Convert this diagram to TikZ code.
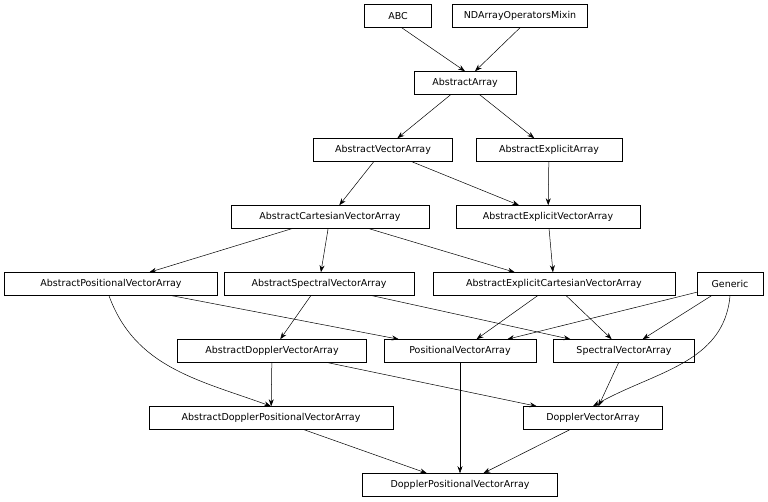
\documentclass[tikz,border=0pt]{standalone}
\usepackage{fontspec}
\setmainfont{DejaVu Sans}
\usetikzlibrary{arrows.meta}
\begin{document}
\begin{tikzpicture}[x=1pt,y=-1pt,
  cls/.style={draw,line width=0.5pt,font=\fontsize{9.5}{11}\selectfont,minimum height=23pt,inner sep=0pt},
  edge/.style={draw,line width=0.5pt,-{Stealth[length=7pt,width=5pt]}}]
\useasboundingbox (0,0) rectangle (768,502);
\node[cls,minimum width=67] (abc) at (398,16) {ABC};
\node[cls,minimum width=135] (nda) at (520,16) {NDArrayOperatorsMixin};
\node[cls,minimum width=102] (aa) at (465,83) {AbstractArray};
\node[cls,minimum width=139] (ava) at (383,150) {AbstractVectorArray};
\node[cls,minimum width=146] (aea) at (549,150) {AbstractExplicitArray};
\node[cls,minimum width=198] (acva) at (330,217) {AbstractCartesianVectorArray};
\node[cls,minimum width=184] (aeva) at (548,217) {AbstractExplicitVectorArray};
\node[cls,minimum width=213] (apva) at (111,284) {AbstractPositionalVectorArray};
\node[cls,minimum width=190] (asva) at (319,284) {AbstractSpectralVectorArray};
\node[cls,minimum width=242] (aecva) at (554,284) {AbstractExplicitCartesianVectorArray};
\node[cls,minimum width=66] (gen) at (730,284) {Generic};
\node[cls,minimum width=189] (adva) at (272,351) {AbstractDopplerVectorArray};
\node[cls,minimum width=152] (pva) at (460,351) {PositionalVectorArray};
\node[cls,minimum width=141] (sva) at (624,351) {SpectralVectorArray};
\node[cls,minimum width=244] (adpva) at (271,418) {AbstractDopplerPositionalVectorArray};
\node[cls,minimum width=139] (dva) at (593,418) {DopplerVectorArray};
\node[cls,minimum width=195] (dpva) at (460,485) {DopplerPositionalVectorArray};
\draw[edge] (abc.south east) ++(-30,0) -- (aa.north);
\draw[edge] (nda.south) -- ([xshift=10]aa.north);
\draw[edge] (aa) -- (ava);
\draw[edge] (aa) -- (aea);
\draw[edge] (ava) -- (acva);
\draw[edge] (ava) -- (aeva);
\draw[edge] (aea) -- (aeva);
\draw[edge] (acva) -- (apva);
\draw[edge] (acva) -- (asva);
\draw[edge] (acva) -- (aecva);
\draw[edge] (aeva) -- (aecva);
\draw[edge] (apva) -- (pva);
\draw[edge] (apva.south) ++(-2,0) to[out=-70,in=160] (adpva.north);
\draw[edge] (asva) -- (adva);
\draw[edge] (asva) -- (sva);
\draw[edge] (aecva) -- (pva);
\draw[edge] (aecva) -- (sva);
\draw[edge] (gen) -- (pva);
\draw[edge] (gen) -- (sva);
\draw[edge] (gen.south) to[out=-95,in=30] (dva.north);
\draw[edge] (adva) -- (adpva);
\draw[edge] (adva) -- (dva);
\draw[edge] (pva) -- (dpva);
\draw[edge] (sva) -- (dva);
\draw[edge] (adpva) -- (dpva);
\draw[edge] (dva) -- (dpva);
\end{tikzpicture}
\end{document}
